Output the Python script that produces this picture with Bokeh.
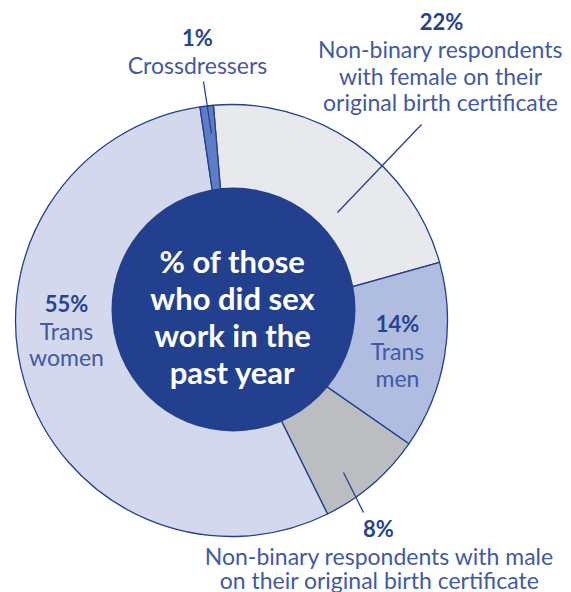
import numpy as np
from bokeh.plotting import figure
from bokeh.models import Range1d
from bokeh.core.properties import value
from bokeh.embed import file_html
from bokeh.resources import INLINE

# ---- data ----
categories = [
    "Non-binary respondents with female on their original birth certificate",
    "Trans men",
    "Non-binary respondents with male on their original birth certificate",
    "Trans women",
    "Crossdressers",
]
shares = [22, 14, 8, 55, 1]
pct_labels = ["22%", "14%", "8%", "55%", "1%"]
name_lines = [
    ["Non-binary respondents", "with female on their", "original birth certificate"],
    ["Trans", "men"],
    ["Non-binary respondents with male", "on their original birth certificate"],
    ["Trans", "women"],
    ["Crossdressers"],
]
center_title = ["% of those", "who did sex", "work in the", "past year"]

# ---- styles / layout ----
slice_colors = ["#E8E9EC", "#B0BCE0", "#BBBDC1", "#D3D8EC", "#5F7DC4"]
DARK = "#23408E"
PCT_COLOR = "#27428F"
NAME_COLOR = "#4259A3"
FONT = value("Lato")

W, H = 571, 592


def Y(py):
    return H - py


p = figure(width=W, height=H, x_range=Range1d(0, W), y_range=Range1d(0, H),
           output_backend="svg", toolbar_location=None, min_border=0,
           x_axis_type=None, y_axis_type=None)
p.grid.visible = False
p.outline_line_color = None
p.background_fill_color = "white"
p.border_fill_color = "white"

# pie geometry
cx, cy, R = 231, Y(320), 216
start_deg = -4.8  # first slice starts just left of 12 o'clock, clockwise
cum = np.cumsum([0] + shares) * 3.6
th1 = start_deg + cum[:-1]
th2 = start_deg + cum[1:]
p.wedge(x=cx, y=cy, radius=R,
        start_angle=np.radians(90 - th2), end_angle=np.radians(90 - th1),
        direction="anticlock", fill_color=slice_colors,
        line_color=DARK, line_width=1.3)

# center disc
p.circle(x=233, y=Y(309), radius=122, fill_color=DARK, line_color=None)

# leader lines
p.segment(x0=[421, 203, 343], y0=[Y(124), Y(81), Y(472)],
          x1=[337, 211, 363], y1=[Y(212), Y(133), Y(512)],
          line_color=DARK, line_width=1.3)

# labels
pct_pos = [(441, 21), (397, 323), (378, 528), (66, 303), (197, 37)]
name_pos = [(440, [48, 75, 101]), (397, [350, 377]), (379, [555, 579]),
            (66, [330, 356]), (197, [64])]

p.text(x=[q[0] for q in pct_pos], y=[Y(q[1]) for q in pct_pos], text=pct_labels,
       text_font=FONT, text_font_style="bold", text_font_size="22px",
       text_color=PCT_COLOR, text_align="center", text_baseline="middle")

nx, ny, nt = [], [], []
for (x, ys), lines in zip(name_pos, name_lines):
    for yy, t in zip(ys, lines):
        nx.append(x)
        ny.append(Y(yy))
        nt.append(t)
p.text(x=nx, y=ny, text=nt, text_font=FONT, text_font_size="23px",
       text_color=NAME_COLOR, text_align="center", text_baseline="middle")

p.text(x=[232] * 4, y=[Y(v) for v in [260, 297, 334, 371]], text=center_title,
       text_font=FONT, text_font_style="bold", text_font_size="31px",
       text_color="white", text_align="center", text_baseline="middle")

open("out.html", "w").write(file_html(p, INLINE))
